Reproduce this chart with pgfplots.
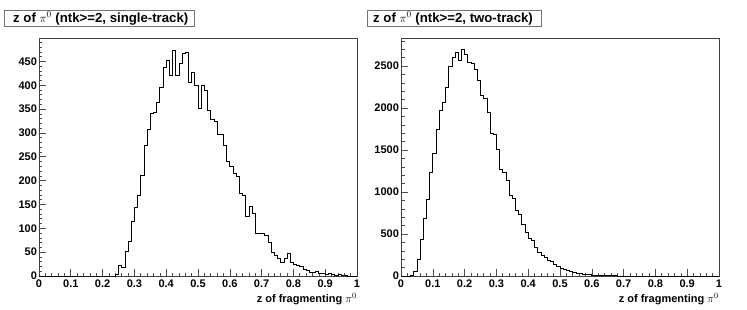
\documentclass[border=0pt]{standalone}
\usepackage{pgfplots}
\pgfplotsset{compat=1.18}
\usepackage{fontspec}
\setmainfont{Liberation Sans}
\begin{document}
\begin{tikzpicture}[x=1pt,y=1pt]
\path[use as bounding box] (0,0) rectangle (747,309);
\pgfplotsset{
  rootstyle/.style={
    scale only axis, width=318pt, height=238pt,
    xmin=0, xmax=1, ymin=0,
    axis line style={black!75, line width=0.8pt},
    tick pos=left, tick align=inside,
    major tick length=7pt, minor tick length=3.5pt,
    every tick/.style={black!70, line width=0.6pt},
    xtick={0,0.1,0.2,0.3,0.4,0.5,0.6,0.7,0.8,0.9,1},
    minor x tick num=4, minor y tick num=4,
    scaled y ticks=false,
    /pgf/number format/assume math mode=true,
    /pgf/number format/1000 sep={},
    xticklabel style={font=\fontsize{11}{12}\selectfont\bfseries, /pgf/number format/fixed, /pgf/number format/precision=1, yshift=-0.5pt},
    yticklabel style={font=\fontsize{11}{12}\selectfont\bfseries, xshift=1.5pt},
    every axis x label/.style={at={(axis description cs:1,0)}, anchor=east, yshift=-23pt, inner sep=0pt, font=\fontsize{11}{12}\selectfont\bfseries},
  }
}
% Left panel
\begin{axis}[rootstyle, at={(39pt,33pt)}, anchor=south west, ymax=499, ytick distance=50,
  xlabel={z of fragmenting $\pi^{0}$}]
\addplot[const plot, black, line width=0.7pt] coordinates {
(0.00,0) (0.23,0) (0.24,3) (0.25,22) (0.26,18) (0.27,52) (0.28,72) (0.29,115)
(0.30,143) (0.31,170) (0.32,210) (0.33,274) (0.34,307) (0.35,340) (0.36,344)
(0.37,365) (0.38,395) (0.39,437) (0.40,453) (0.41,421) (0.42,474) (0.43,421)
(0.44,446) (0.45,467) (0.46,469) (0.47,405) (0.48,428) (0.49,400) (0.50,352)
(0.51,400) (0.52,389) (0.53,347) (0.54,328) (0.55,324) (0.56,296) (0.57,296)
(0.58,274) (0.59,241) (0.60,230) (0.61,215) (0.62,208) (0.63,173) (0.64,169)
(0.65,125) (0.66,145) (0.67,131) (0.68,89) (0.69,89) (0.70,90) (0.71,85)
(0.72,71) (0.73,50) (0.74,43) (0.75,36) (0.76,29) (0.77,36) (0.78,48)
(0.79,29) (0.80,24) (0.81,22) (0.82,20) (0.83,13) (0.84,12) (0.85,8)
(0.86,7) (0.87,10) (0.88,5) (0.89,6) (0.90,3) (0.91,5) (0.92,3) (0.93,1)
(0.94,3) (0.95,1) (0.96,1) (0.97,0) (1.00,0)
};
\end{axis}
% Right panel
\begin{axis}[rootstyle, at={(401pt,33pt)}, anchor=south west, ymax=2835, ytick distance=500,
  xlabel={z of fragmenting $\pi^{0}$}]
\addplot[const plot, black, line width=0.7pt] coordinates {
(0.00,0) (0.03,5) (0.04,60) (0.05,200) (0.06,440) (0.07,690) (0.08,910)
(0.09,1230) (0.10,1460) (0.11,1750) (0.12,1970) (0.13,2070) (0.14,2245)
(0.15,2500) (0.16,2600) (0.17,2660) (0.18,2570) (0.19,2700) (0.20,2640)
(0.21,2545) (0.22,2530) (0.23,2460) (0.24,2335) (0.25,2150) (0.26,2115)
(0.27,1955) (0.28,1705) (0.29,1690) (0.30,1510) (0.31,1275) (0.32,1235)
(0.33,1140) (0.34,965) (0.35,925) (0.36,785) (0.37,740) (0.38,620)
(0.39,520) (0.40,450) (0.41,420) (0.42,340) (0.43,285) (0.44,250)
(0.45,225) (0.46,190) (0.47,175) (0.48,140) (0.49,115) (0.50,95)
(0.51,75) (0.52,65) (0.53,50) (0.54,40) (0.55,35) (0.56,28) (0.57,22)
(0.58,17) (0.59,14) (0.60,11) (0.61,9) (0.62,7) (0.63,5) (0.64,4)
(0.65,3) (0.66,2) (0.67,2) (0.68,1) (0.69,1) (0.70,0) (1.00,0)
};
\end{axis}
% Title boxes
\draw[black!55, line width=0.9pt] (4,283) rectangle (194,299);
\node[anchor=west, inner sep=0pt, font=\fontsize{13.2}{15}\selectfont\bfseries] at (13,290.5) {z of $\pi^{0}$ (ntk>=2, single-track)};
\draw[black!55, line width=0.9pt] (367,283) rectangle (541,299);
\node[anchor=west, inner sep=0pt, font=\fontsize{13.2}{15}\selectfont\bfseries] at (373,290.5) {z of $\pi^{0}$ (ntk>=2, two-track)};
\end{tikzpicture}
\end{document}
